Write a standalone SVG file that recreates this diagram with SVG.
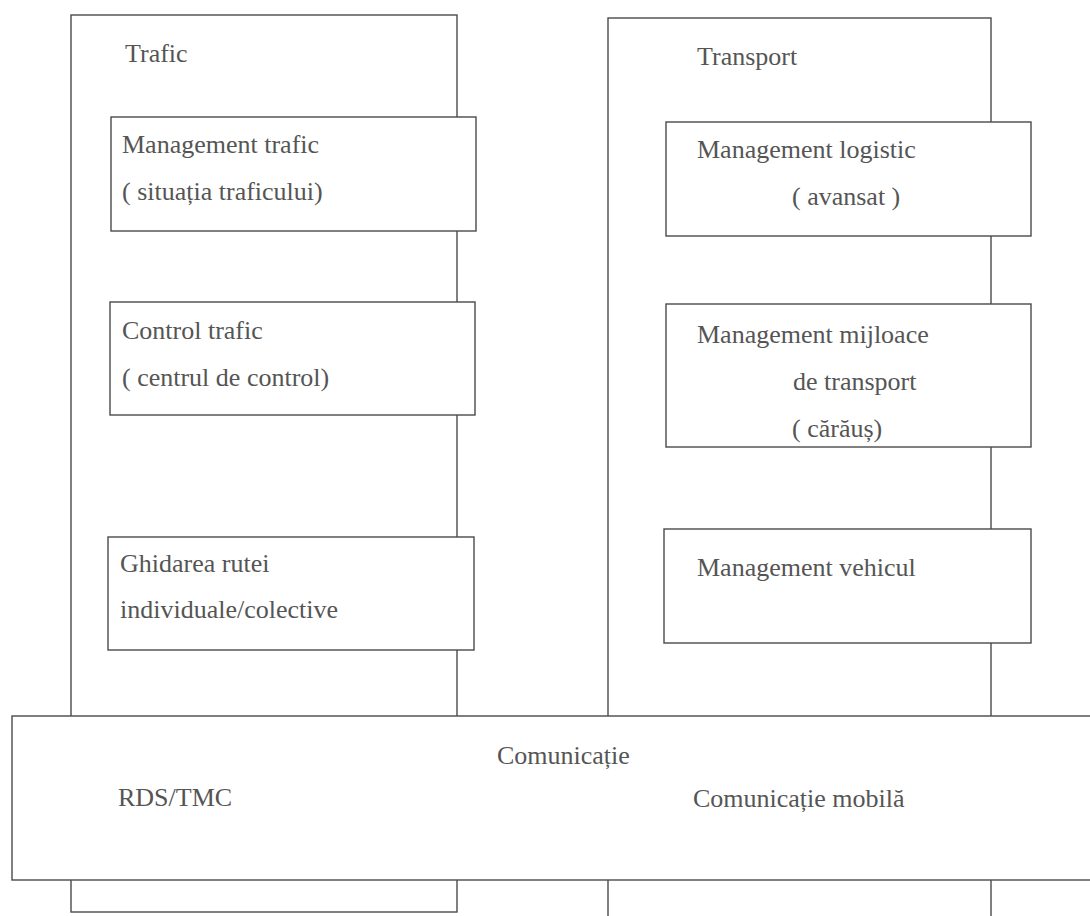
<svg xmlns="http://www.w3.org/2000/svg" width="1090" height="916" viewBox="0 0 1090 916">
<style>
.box{fill:#fff;stroke:#4a4a4a;stroke-width:1.4}
.t{font-family:"Liberation Serif","Times New Roman",serif;font-size:26px;fill:#555}
</style>
<rect x="0" y="0" width="1090" height="916" fill="#fff"/>
<g id="trafic">
<rect class="box" x="71" y="15" width="386" height="897"/>
<text class="t" x="125" y="62">Trafic</text>
</g>
<g id="transport">
<rect class="box" x="608" y="18" width="383" height="920"/>
<text class="t" x="697" y="65">Transport</text>
</g>
<g id="management-trafic">
<rect class="box" x="111" y="117" width="365" height="114"/>
<text class="t" x="122" y="153">Management trafic</text>
<text class="t" x="122" y="200">( situația traficului)</text>
</g>
<g id="control-trafic">
<rect class="box" x="110" y="302" width="365" height="113"/>
<text class="t" x="122" y="339">Control trafic</text>
<text class="t" x="122" y="386">( centrul de control)</text>
</g>
<g id="ghidarea-rutei">
<rect class="box" x="108" y="537" width="366" height="113"/>
<text class="t" x="120" y="572">Ghidarea rutei</text>
<text class="t" x="120" y="618">individuale/colective</text>
</g>
<g id="management-logistic">
<rect class="box" x="666" y="122" width="365" height="114"/>
<text class="t" x="697" y="158">Management logistic</text>
<text class="t" x="792" y="205">( avansat )</text>
</g>
<g id="management-mijloace">
<rect class="box" x="666" y="304" width="365" height="143"/>
<text class="t" x="697" y="343">Management mijloace</text>
<text class="t" x="793" y="390">de transport</text>
<text class="t" x="792" y="437">( cărăuș)</text>
</g>
<g id="management-vehicul">
<rect class="box" x="664" y="529" width="367" height="114"/>
<text class="t" x="697" y="576">Management vehicul</text>
</g>
<g id="comunicatie">
<rect class="box" x="12" y="716" width="1100" height="164"/>
<text class="t" x="497" y="764">Comunicație</text>
<text class="t" x="118" y="806">RDS/TMC</text>
<text class="t" x="693" y="807">Comunicație mobilă</text>
</g>
<g id="connectors"></g>
</svg>
